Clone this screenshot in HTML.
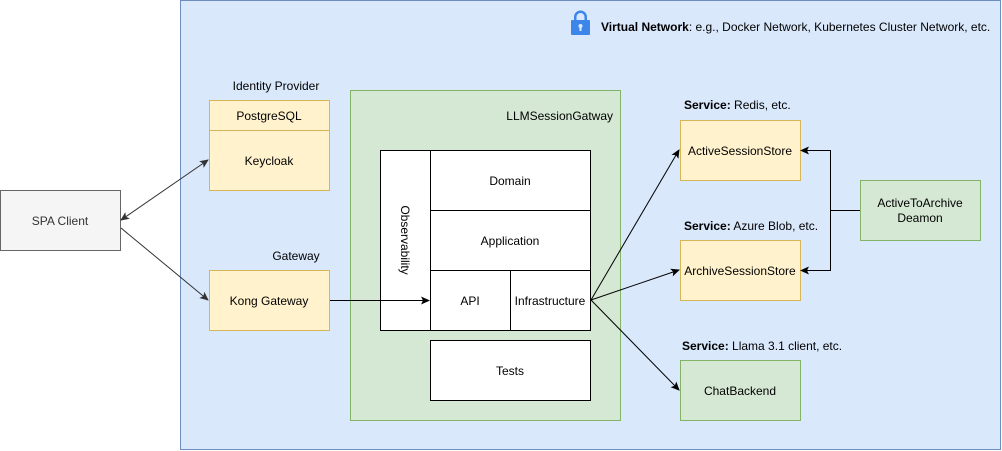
<!DOCTYPE html>
<html><head><style>body{margin:0;background:#fff}svg{display:block;font-family:"Liberation Sans",Arial,sans-serif;font-size:12px}</style></head><body>
<svg width="1002" height="451" xmlns="http://www.w3.org/2000/svg">
<defs><marker id="a" markerWidth="10" markerHeight="10" refX="8" refY="4" orient="auto" markerUnits="userSpaceOnUse"><path d="M0,0 L9,4 L0,8 L2,4 Z" fill="#000"/></marker>
<marker id="g" markerWidth="10" markerHeight="10" refX="8" refY="4" orient="auto-start-reverse" markerUnits="userSpaceOnUse"><path d="M0,0 L9,4 L0,8 L2,4 Z" fill="#333"/></marker></defs>
<rect x="180.5" y="0.5" width="820" height="449" fill="#dae8fc" stroke="#6c8ebf"/>
<g fill="#3b86e8"><rect x="571" y="20" width="19" height="15" rx="1"/><path d="M574,20 v-3 a6.5,6.5 0 0 1 13,0 v3 h-2.5 v-3 a4,4 0 0 0 -8,0 v3z"/></g>
<circle cx="580.5" cy="26" r="2" fill="#dae8fc"/><rect x="579.5" y="26" width="2" height="5" fill="#dae8fc"/>
<text x="601" y="31"><tspan font-weight="bold">Virtual Network</tspan>: e.g., Docker Network, Kubernetes Cluster Network, etc.</text>
<rect x="0.5" y="190.5" width="120" height="60" fill="#f5f5f5" stroke="#666"/>
<text x="60" y="225" text-anchor="middle" fill="#333">SPA Client</text>
<text x="276" y="90" text-anchor="middle">Identity Provider</text>
<rect x="209.5" y="100.5" width="120" height="30" fill="#fff2cc" stroke="#d6b656"/>
<rect x="209.5" y="130.5" width="120" height="60" fill="#fff2cc" stroke="#d6b656"/>
<text x="269" y="120" text-anchor="middle">PostgreSQL</text>
<text x="269" y="165" text-anchor="middle">Keycloak</text>
<text x="296" y="260" text-anchor="middle">Gateway</text>
<rect x="209.5" y="270.5" width="120" height="60" fill="#fff2cc" stroke="#d6b656"/>
<text x="269" y="305" text-anchor="middle">Kong Gateway</text>
<rect x="350.5" y="90.5" width="270" height="330" fill="#d5e8d4" stroke="#82b366"/>
<text x="613" y="120" text-anchor="end">LLMSessionGatway</text>
<g fill="#fff" stroke="#000">
<rect x="380.5" y="150.5" width="50" height="180"/>
<rect x="430.5" y="150.5" width="160" height="60"/>
<rect x="430.5" y="210.5" width="160" height="60"/>
<rect x="430.5" y="270.5" width="80" height="60"/>
<rect x="510.5" y="270.5" width="80" height="60"/>
<rect x="430.5" y="340.5" width="160" height="60"/></g>
<text transform="translate(401,240) rotate(90)" text-anchor="middle">Observability</text>
<text x="510" y="185" text-anchor="middle">Domain</text>
<text x="510" y="245" text-anchor="middle">Application</text>
<text x="470" y="305" text-anchor="middle">API</text>
<text x="550" y="305" text-anchor="middle">Infrastructure</text>
<text x="510" y="375" text-anchor="middle">Tests</text>
<text x="684" y="109"><tspan font-weight="bold">Service:</tspan> Redis, etc.</text>
<rect x="680.5" y="120.5" width="120" height="60" fill="#fff2cc" stroke="#d6b656"/>
<text x="740" y="155" text-anchor="middle">ActiveSessionStore</text>
<text x="684" y="230"><tspan font-weight="bold">Service:</tspan> Azure Blob, etc.</text>
<rect x="680.5" y="240.5" width="120" height="60" fill="#fff2cc" stroke="#d6b656"/>
<text x="740" y="275" text-anchor="middle">ArchiveSessionStore</text>
<text x="682" y="350"><tspan font-weight="bold">Service:</tspan> Llama 3.1 client, etc.</text>
<rect x="680.5" y="360.5" width="120" height="60" fill="#d5e8d4" stroke="#82b366"/>
<text x="740" y="395" text-anchor="middle">ChatBackend</text>
<rect x="860.5" y="180.5" width="120" height="60" fill="#d5e8d4" stroke="#82b366"/>
<text x="920" y="207" text-anchor="middle">ActiveToArchive</text>
<text x="920" y="222" text-anchor="middle">Deamon</text>
<g fill="none" stroke="#333" stroke-width="1">
<line x1="121" y1="220" x2="208" y2="160" marker-start="url(#g)" marker-end="url(#g)"/>
<line x1="121" y1="228" x2="208" y2="300" marker-end="url(#g)"/></g>
<g fill="none" stroke="#000">
<line x1="330" y1="300.5" x2="429" y2="300.5" marker-end="url(#a)"/>
<line x1="591" y1="300" x2="679" y2="150" marker-end="url(#a)"/>
<line x1="591" y1="300" x2="679" y2="270" marker-end="url(#a)"/>
<line x1="591" y1="300" x2="679" y2="390" marker-end="url(#a)"/>
<path d="M860,210.5 H830.5 V150.5 H801" marker-end="url(#a)"/>
<path d="M830.5,210 V270.5 H801" marker-end="url(#a)"/></g>
</svg></body></html>
